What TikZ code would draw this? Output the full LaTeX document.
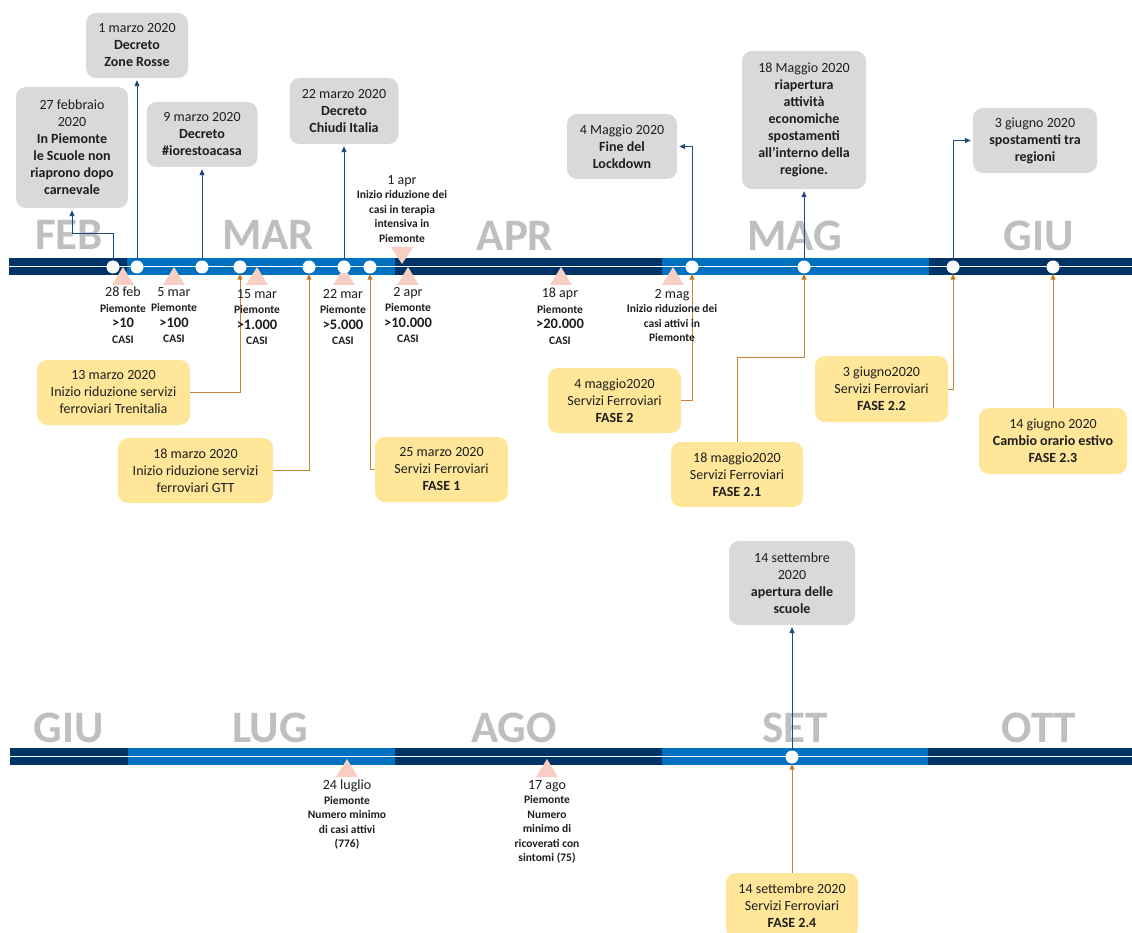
\documentclass[tikz,border=0pt]{standalone}
\usepackage{fontspec}
\setmainfont{Carlito}
\usetikzlibrary{arrows.meta}
\definecolor{navy}{RGB}{0,51,102}
\definecolor{lblue}{RGB}{0,112,192}
\definecolor{gbox}{RGB}{217,217,217}
\definecolor{mon}{RGB}{191,191,191}
\definecolor{tri}{RGB}{246,206,196}
\definecolor{obox}{RGB}{255,230,153}
\definecolor{oline}{RGB}{197,133,52}
\definecolor{ohead}{RGB}{180,105,20}
\definecolor{nline}{RGB}{31,73,125}
\definecolor{txt}{RGB}{30,30,30}
\begin{document}
\begin{tikzpicture}[x=1pt,y=-1pt,
  graybox/.style={fill=gbox, rounded corners=10pt, align=center, inner sep=0pt, font=\fontsize{14}{17}\selectfont, text=txt},
  orangebox/.style={fill=obox, rounded corners=10pt, align=center, inner sep=0pt, font=\fontsize{14}{17}\selectfont, text=txt},
  dot/.style={circle, fill=white, minimum size=13pt, inner sep=0pt},
  month/.style={font=\fontsize{45}{45}\selectfont\bfseries, text=mon, anchor=base, inner sep=0pt},
  navyarrow/.style={draw=nline, line width=1pt, -{Triangle[length=6pt,width=5pt]}, shorten >=2pt},
  orangearrow/.style={draw=oline, line width=1pt, -{Triangle[length=6pt,width=5pt,fill=ohead]}},
  info/.style={align=center, anchor=north, inner sep=0pt, font=\fontsize{11.5}{15.5}\selectfont\bfseries, text=txt},
]
\clip (0,0) rectangle (1132,933);
\fill[white] (0,0) rectangle (1132,933);

% month labels
\node[month] (mFEB) at (69,250) {FEB};
\node[month] (mMAR) at (268,250) {MAR};
\node[month] (mAPR) at (515,251) {APR};
\node[month] (mMAG) at (795,251) {MAG};
\node[month] (mGIU) at (1039,251) {GIU};
\node[month] (mGIU2) at (69,742) {GIU};
\node[month] (mLUG) at (270,742) {LUG};
\node[month] (mAGO) at (514,742) {AGO};
\node[month] (mSET) at (795,742) {SET};
\node[month] (mOTT) at (1039,742) {OTT};

% top bar
\fill[navy] (9,258) rectangle (127,275);
\fill[lblue] (127,258) rectangle (395,275);
\fill[navy] (395,258) rectangle (662,275);
\fill[lblue] (662,258) rectangle (929,275);
\fill[navy] (929,258) rectangle (1132,275);
\draw[white, line width=1.5pt] (9,266.5) -- (1132,266.5);
% bottom bar
\fill[navy] (10,748) rectangle (128,765);
\fill[lblue] (128,748) rectangle (395,765);
\fill[navy] (395,748) rectangle (662,765);
\fill[lblue] (662,748) rectangle (928,765);
\fill[navy] (928,748) rectangle (1132,765);
\draw[white, line width=1.5pt] (10,756.5) -- (1132,756.5);

% triangles
\foreach \x in {123,174,257,344,408,561,673}{
  \fill[tri] (\x-11,285) -- (\x,267) -- (\x+11,285) -- cycle;
}
\fill[tri] (391,247) -- (413,247) -- (402,264) -- cycle;
\foreach \x in {347,547}{
  \fill[tri] (\x-11,777) -- (\x,759) -- (\x+11,777) -- cycle;
}

% gray boxes
\node[graybox, minimum width=112pt, minimum height=121pt] (b1) at (72,147.5) {27 febbraio\\2020\\\textbf{In Piemonte}\\\textbf{le Scuole non}\\\textbf{riaprono dopo}\\\textbf{carnevale}};
\node[graybox, minimum width=102pt, minimum height=65pt] (b2) at (137,45.5) {1 marzo 2020\\\textbf{Decreto}\\\textbf{Zone Rosse}};
\node[graybox, minimum width=111pt, minimum height=65pt] (b3) at (202,134.5) {9 marzo 2020\\\textbf{Decreto}\\\textbf{\#iorestoacasa}};
\node[graybox, minimum width=109pt, minimum height=66pt] (b4) at (344,111) {22 marzo 2020\\\textbf{Decreto}\\\textbf{Chiudi Italia}};
\node[graybox, minimum width=110pt, minimum height=65pt] (b5) at (622,146.5) {4 Maggio 2020\\\textbf{Fine del}\\\textbf{Lockdown}};
\node[graybox, minimum width=124pt, minimum height=138pt] (b6) at (804,120) {18 Maggio 2020\\\textbf{riapertura}\\\textbf{attività}\\\textbf{economiche}\\\textbf{spostamenti}\\\textbf{all’interno della}\\\textbf{regione.}};
\node[graybox, minimum width=124pt, minimum height=65pt] (b7) at (1035,140.5) {3 giugno 2020\\\textbf{spostamenti tra}\\\textbf{regioni}};
\node[graybox, minimum width=126pt, minimum height=84pt] (bS) at (792,583) {14 settembre\\2020\\\textbf{apertura delle}\\\textbf{scuole}};

% orange boxes
\node[orangebox, minimum width=153pt, minimum height=65pt] (oA) at (113.5,392.5) {13 marzo 2020\\Inizio riduzione servizi\\ferroviari Trenitalia};
\node[orangebox, minimum width=155pt, minimum height=65pt] (oB) at (195.5,470.5) {18 marzo 2020\\Inizio riduzione servizi\\ferroviari GTT};
\node[orangebox, minimum width=133pt, minimum height=65pt] (oC) at (441.5,469.5) {25 marzo 2020\\Servizi Ferroviari\\\textbf{FASE 1}};
\node[orangebox, minimum width=133pt, minimum height=65pt] (oD) at (614.5,400.5) {4 maggio2020\\Servizi Ferroviari\\\textbf{FASE 2}};
\node[orangebox, minimum width=132pt, minimum height=65pt] (oE) at (737,474.5) {18 maggio2020\\Servizi Ferroviari\\\textbf{FASE 2.1}};
\node[orangebox, minimum width=133pt, minimum height=66pt] (oF) at (881.5,389) {3 giugno2020\\Servizi Ferroviari\\\textbf{FASE 2.2}};
\node[orangebox, minimum width=148pt, minimum height=66pt] (oG) at (1053,441) {14 giugno 2020\\\textbf{Cambio orario estivo}\\\textbf{FASE 2.3}};
\node[orangebox, minimum width=132pt, minimum height=65pt] (oH) at (792,905.5) {14 settembre 2020\\Servizi Ferroviari\\\textbf{FASE 2.4}};

% dots
\node[dot] (c1) at (113,267) {};
\node[dot] (c2) at (137,267) {};
\node[dot] (c3) at (202,267) {};
\node[dot] (c4) at (240,267) {};
\node[dot] (c5) at (309,267) {};
\node[dot] (c6) at (344,267) {};
\node[dot] (c7) at (370,267) {};
\node[dot] (c8) at (692,267) {};
\node[dot] (c9) at (804,267) {};
\node[dot] (c10) at (953,267) {};
\node[dot] (c11) at (1053,267) {};
\node[dot] (c12) at (792,757) {};

% navy connectors
\draw[navyarrow] (c1) -- (c1 |- 0,234) -| (b1);
\draw[navyarrow] (c2) -- (c2 |- b2.south);
\draw[navyarrow] (c3) -- (c3 |- b3.south);
\draw[navyarrow] (c6) -- (c6 |- b4.south);
\draw[navyarrow] (c8) |- (b5);
\draw[navyarrow] (c9) -- (c9 |- b6.south);
\draw[navyarrow] (c10) |- (b7);
\draw[navyarrow] (c12) -- (c12 |- bS.south);

% orange connectors
\draw[orangearrow] (oA) -| (c4);
\draw[orangearrow] (oB) -| (c5);
\draw[orangearrow] (oC) -| (c7);
\draw[orangearrow] (oD) -| (c8);
\draw[orangearrow] (oE.north) |- (c9 |- 0,357) -- (c9);
\draw[orangearrow] (oF) -| (c10);
\draw[orangearrow] (oG) -- (c11);
\draw[orangearrow] (oH) -- (c12);

% info texts
\node[info] (t1) at (123,287) {{\mdseries\fontsize{14}{15.5}\selectfont 28 feb}\\Piemonte\\{\fontsize{14.5}{15.5}\selectfont >10}\\CASI};
\node[info] (t2) at (174,287) {{\mdseries\fontsize{14}{15.5}\selectfont 5 mar}\\Piemonte\\{\fontsize{14.5}{15.5}\selectfont >100}\\CASI};
\node[info] (t3) at (257,289) {{\mdseries\fontsize{14}{15.5}\selectfont 15 mar}\\Piemonte\\{\fontsize{14.5}{15.5}\selectfont >1.000}\\CASI};
\node[info] (t4) at (343,289) {{\mdseries\fontsize{14}{15.5}\selectfont 22 mar}\\Piemonte\\{\fontsize{14.5}{15.5}\selectfont >5.000}\\CASI};
\node[info] (t5) at (408,287) {{\mdseries\fontsize{14}{15.5}\selectfont 2 apr}\\Piemonte\\{\fontsize{14.5}{15.5}\selectfont >10.000}\\CASI};
\node[info] (t6) at (560,288) {{\mdseries\fontsize{14}{15.5}\selectfont 18 apr}\\Piemonte\\{\fontsize{14.5}{15.5}\selectfont >20.000}\\CASI};
\node[info, font=\fontsize{11.5}{14.5}\selectfont\bfseries] (t7) at (672,289) {{\mdseries\fontsize{14}{14.5}\selectfont 2 mag}\\Inizio riduzione dei\\casi attivi in\\Piemonte};
\node[info, font=\fontsize{11.5}{14.5}\selectfont\bfseries] (t8) at (402,175) {{\mdseries\fontsize{14}{14.5}\selectfont 1 apr}\\Inizio riduzione dei\\casi in terapia\\intensiva in\\Piemonte};
\node[info, font=\fontsize{11.5}{14.5}\selectfont\bfseries] (l1) at (347,780) {{\mdseries\fontsize{14}{14.5}\selectfont 24 luglio}\\Piemonte\\Numero minimo\\di casi attivi\\(776)};
\node[info, font=\fontsize{11.5}{14.5}\selectfont\bfseries] (l2) at (547,780) {{\mdseries\fontsize{14}{14.5}\selectfont 17 ago}\\Piemonte\\Numero\\minimo di\\ricoverati con\\sintomi (75)};
\end{tikzpicture}
\end{document}
